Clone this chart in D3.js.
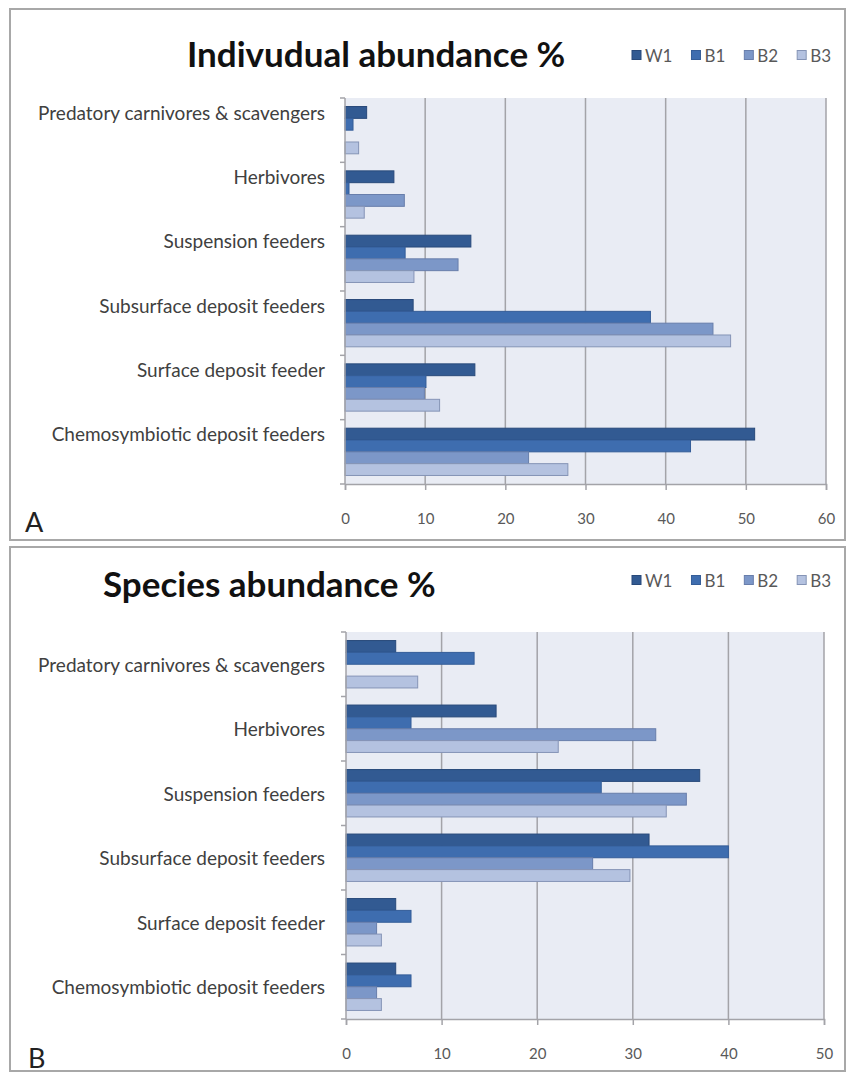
<!DOCTYPE html>
<html>
<head>
<meta charset="utf-8">
<script src="https://cdn.jsdelivr.net/npm/d3@7"></script>
<style>
  html, body { margin: 0; padding: 0; background: #ffffff; }
  svg { display: block; }
  text { font-family: Lato, "Open Sans", sans-serif; }
</style>
</head>
<body>
<svg id="chart" width="849" height="1073"></svg>
<script>
// Feeding guilds, top to bottom
const categories = [
  "Predatory carnivores & scavengers",
  "Herbivores",
  "Suspension feeders",
  "Subsurface deposit feeders",
  "Surface deposit feeder",
  "Chemosymbiotic deposit feeders"
];
const seriesNames = ["W1", "B1", "B2", "B3"];

// Individual abundance (%), one array per site
const indivW1 = [2.7, 6.1, 15.7, 8.5, 16.2, 51.1];
const indivB1 = [1.0, 0.5, 7.5, 38.1, 10.1, 43.1];
const indivB2 = [0, 7.4, 14.1, 45.9, 9.9, 22.9];
const indivB3 = [1.7, 2.4, 8.6, 48.1, 11.8, 27.8];

// Species abundance (%), one array per site
const specW1 = [5.2, 15.7, 37.0, 31.7, 5.2, 5.2];
const specB1 = [13.4, 6.8, 26.7, 40.0, 6.8, 6.8];
const specB2 = [0, 32.4, 35.6, 25.8, 3.2, 3.2];
const specB3 = [7.5, 22.2, 33.5, 29.7, 3.7, 3.7];

const indivTicks = [0, 10, 20, 30, 40, 50, 60];
const specTicks = [0, 10, 20, 30, 40, 50];

const fillColors = ["#325a92", "#3e6daf", "#7c97c8", "#b4c2e0"];
const strokeColors = ["#28497a", "#345d98", "#687eab", "#8594b6"];

const svg = d3.select("#chart");
svg.append("rect").attr("width", 849).attr("height", 1073).attr("fill", "#ffffff");

function drawPanel(cfg) {
  const g = svg.append("g");

  // panel frame
  g.append("rect")
    .attr("x", cfg.frame[0]).attr("y", cfg.frame[1])
    .attr("width", cfg.frame[2]).attr("height", cfg.frame[3])
    .attr("fill", "#ffffff").attr("stroke", "#a8a8a8").attr("stroke-width", 2);

  const x = d3.scaleLinear().domain([0, cfg.ticks[cfg.ticks.length - 1]])
    .range([cfg.plot.x0, cfg.plot.x1]);
  const y = d3.scaleBand().domain(categories)
    .range([cfg.plot.y0, cfg.plot.y1])
    .paddingInner(0.265).paddingOuter(0.1325);
  const ySeries = d3.scaleBand().domain(seriesNames).range([0, y.bandwidth()]);
  const step = y.step();

  // plot background
  g.append("rect")
    .attr("x", cfg.plot.x0).attr("y", cfg.plot.y0)
    .attr("width", cfg.plot.x1 - cfg.plot.x0).attr("height", cfg.plot.y1 - cfg.plot.y0)
    .attr("fill", "#e9ecf4");

  // vertical gridlines
  g.selectAll(".grid").data(cfg.ticks.slice(1)).enter().append("line")
    .attr("x1", d => x(d)).attr("x2", d => x(d))
    .attr("y1", cfg.plot.y0).attr("y2", cfg.plot.y1)
    .attr("stroke", "#a3a3a8").attr("stroke-width", 1.5);

  // bars
  const series = cfg.values.map((vals, i) => ({ name: seriesNames[i], vals, i }));
  series.forEach(s => {
    g.selectAll(".bar-" + s.name).data(categories).enter().append("rect")
      .attr("x", x(0))
      .attr("y", c => y(c) + ySeries(s.name))
      .attr("width", (c, j) => x(s.vals[j]) - x(0))
      .attr("height", ySeries.bandwidth())
      .attr("fill", fillColors[s.i])
      .attr("stroke", (c, j) => s.vals[j] > 0 ? strokeColors[s.i] : "none")
      .attr("stroke-width", 1);
  });

  // x axis
  const xAxis = d3.axisBottom(x).tickValues(cfg.ticks).tickSize(6).tickPadding(23);
  const xa = g.append("g").attr("transform", `translate(0,${cfg.plot.y1})`).call(xAxis);
  xa.select(".domain").attr("stroke", "#a3a3a8").attr("stroke-width", 1.5);
  xa.selectAll(".tick line").attr("stroke", "#a3a3a8").attr("stroke-width", 1.5);
  xa.selectAll(".tick text").attr("fill", "#595959")
    .style("font-size", "15px").style("font-family", "Lato, sans-serif");

  // y axis line with ticks at category boundaries
  g.append("line")
    .attr("x1", cfg.plot.x0).attr("x2", cfg.plot.x0)
    .attr("y1", cfg.plot.y0).attr("y2", cfg.plot.y1)
    .attr("stroke", "#a3a3a8").attr("stroke-width", 1.5);
  const boundaries = d3.range(categories.length + 1).map(k => cfg.plot.y0 + k * step);
  g.selectAll(".ytick").data(boundaries).enter().append("line")
    .attr("x1", cfg.plot.x0 - 5).attr("x2", cfg.plot.x0)
    .attr("y1", d => d).attr("y2", d => d)
    .attr("stroke", "#a3a3a8").attr("stroke-width", 1.5);

  // category labels
  g.selectAll(".cat").data(categories).enter().append("text")
    .attr("x", cfg.labelX)
    .attr("y", c => y(c) + y.bandwidth() / 2 + cfg.labelShift)
    .attr("text-anchor", "end").attr("dominant-baseline", "central")
    .attr("fill", "#404040").style("font-size", "19px")
    .text(c => c);

  // title
  g.append("text")
    .attr("x", cfg.titleX).attr("y", cfg.titleY)
    .attr("fill", "#111111").style("font-size", "35px").style("font-weight", "bold")
    .text(cfg.title);

  // legend
  let lx = cfg.legendX;
  seriesNames.forEach((name, i) => {
    g.append("rect")
      .attr("x", lx).attr("y", cfg.legendY - 4.5)
      .attr("width", 9).attr("height", 9)
      .attr("fill", fillColors[i]).attr("stroke", strokeColors[i]).attr("stroke-width", 1);
    const t = g.append("text")
      .attr("x", lx + 13).attr("y", cfg.legendY)
      .attr("dominant-baseline", "central")
      .attr("fill", "#595959").style("font-size", "17px")
      .text(name);
    lx += 13 + t.node().getComputedTextLength() + 19;
  });

  // panel letter
  g.append("text")
    .attr("x", cfg.letterX).attr("y", cfg.letterY)
    .attr("fill", "#222222").style("font-size", "27px")
    .text(cfg.letter);
}

drawPanel({
  title: "Indivudual abundance %",
  letter: "A",
  values: [indivW1, indivB1, indivB2, indivB3],
  ticks: indivTicks,
  frame: [10, 9, 835, 531],
  plot: { x0: 345, x1: 826, y0: 98, y1: 484 },
  labelX: 325, labelShift: -18,
  titleX: 187, titleY: 67,
  legendX: 632, legendY: 55,
  letterX: 25, letterY: 532
});

drawPanel({
  title: "Species abundance %",
  letter: "B",
  values: [specW1, specB1, specB2, specB3],
  ticks: specTicks,
  frame: [10, 547, 835, 524],
  plot: { x0: 346, x1: 824, y0: 632, y1: 1019 },
  labelX: 325, labelShift: 0,
  titleX: 103, titleY: 597,
  legendX: 632, legendY: 580,
  letterX: 28, letterY: 1068
});
</script>
</body>
</html>
